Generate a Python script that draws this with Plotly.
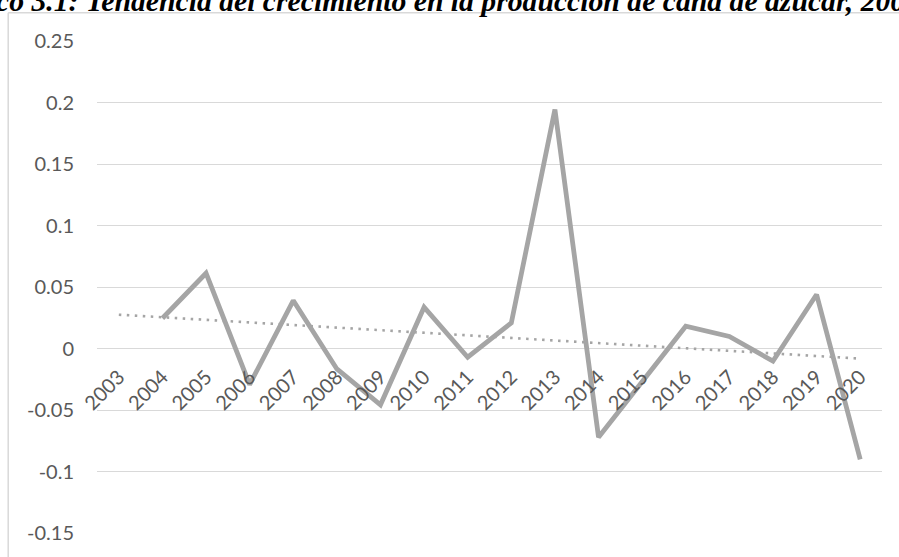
import plotly.graph_objects as go

# ---- data ----
years = ["2003", "2004", "2005", "2006", "2007", "2008", "2009", "2010", "2011",
         "2012", "2013", "2014", "2015", "2016", "2017", "2018", "2019", "2020"]
growth = [None, 0.0246, 0.0612, -0.0293, 0.0390, -0.0166, -0.0458, 0.0336, -0.0071,
          0.0208, 0.1943, -0.0721, -0.0270, 0.0181, 0.0098, -0.0103, 0.0439, -0.0902]
trend_years = ["2003", "2020"]
trend_values = [0.0275, -0.0082]
y_ticks = [0.25, 0.2, 0.15, 0.1, 0.05, 0, -0.05, -0.1, -0.15]
y_tick_labels = ["0.25", "0.2", "0.15", "0.1", "0.05", "0", "-0.05", "-0.1", "-0.15"]
title = "Gráfico 3.1: Tendencia del crecimiento en la producción de caña de azúcar, 2003-2020"

W, H = 899, 557
LINE = "#A5A5A5"
GRID = "#D9D9D9"
TXT = "#595959"

# plot area in pixels
px_l, px_r = 97.3, 882.3
px_t, px_b = 41.0, 533.0
ymin, ymax = -0.15, 0.25
zero_pos = (0 - ymin) / (ymax - ymin)


def fx(px):
    return (px - px_l) / (px_r - px_l)


def fy(py):
    return (px_b - py) / (px_b - px_t)


fig = go.Figure()
fig.add_trace(go.Scatter(
    x=trend_years, y=trend_values, mode="lines",
    line=dict(color=LINE, width=2.6, dash="2.5px,5.5px"),
    hoverinfo="skip", showlegend=False))
fig.add_trace(go.Scatter(
    x=years, y=growth, mode="lines",
    line=dict(color=LINE, width=4.8),
    showlegend=False))

fig.update_layout(
    width=W, height=H,
    margin=dict(l=px_l, r=W - px_r, t=px_t, b=H - px_b, pad=0),
    paper_bgcolor="white", plot_bgcolor="white",
    font=dict(family="Lato", size=20, color=TXT),
    xaxis=dict(
        type="category", categoryorder="array", categoryarray=years,
        range=[-0.5, len(years) - 0.5],
        anchor="free", position=zero_pos, automargin=False,
        showgrid=False, zeroline=False, showline=False,
        tickangle=-45, ticks="", ticklabelstandoff=12,
        tickfont=dict(family="Lato", size=20, color=TXT),
    ),
    yaxis=dict(
        range=[ymin, ymax], automargin=False,
        tickvals=y_ticks, ticktext=y_tick_labels,
        showgrid=True, gridcolor=GRID, gridwidth=1.2,
        zeroline=False, showline=False, ticks="",
        ticklabelstandoff=22,
        tickfont=dict(family="Lato", size=20, color=TXT),
    ),
    shapes=[
        dict(type="line", xref="paper", yref="paper",
             x0=fx(8.5), x1=fx(8.5), y0=fy(H + 5), y1=fy(12.7),
             line=dict(color=GRID, width=1.5)),
        dict(type="line", xref="paper", yref="paper",
             x0=fx(8.5), x1=fx(W + 5), y0=fy(12.7), y1=fy(12.7),
             line=dict(color=GRID, width=1.5)),
    ],
    annotations=[
        dict(text="<b><i>" + title + "</i></b>", xref="paper", yref="paper",
             x=fx(-72), y=fy(18.5),
             xanchor="left", yanchor="bottom", showarrow=False,
             font=dict(family="Liberation Serif", size=29.7, color="black")),
    ],
)

fig.write_html("out.html", config={"displayModeBar": False},
               post_script="document.body.style.margin='0';")
